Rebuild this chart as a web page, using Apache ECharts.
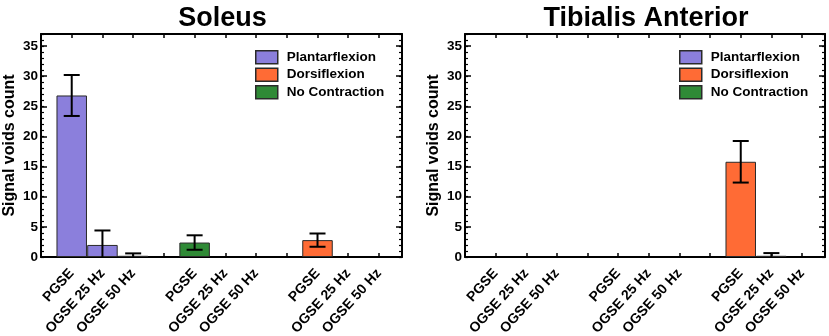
<!DOCTYPE html>
<html><head><meta charset="utf-8">
<script src="https://cdn.jsdelivr.net/npm/echarts@6/dist/echarts.min.js"></script>
<style>html,body{margin:0;padding:0;background:#fff}#c{width:829px;height:336px}</style>
</head><body><div id="c"></div>
<script>
// ---- data ----
const panelTitles = ['Soleus', 'Tibialis Anterior'];
const seqLabels = ['PGSE', 'OGSE 25 Hz', 'OGSE 50 Hz'];
const conditions = ['Plantarflexion', 'No Contraction', 'Dorsiflexion'];
const groupStart = [0, 4, 8]; // x slot of first bar in each condition group
const colors = { 'Plantarflexion': '#8b7fdc', 'Dorsiflexion': '#ff6b35', 'No Contraction': '#2f8a36' };
const legendOrder = ['Plantarflexion', 'Dorsiflexion', 'No Contraction'];

const soleusPlantar = [26.8, 2.0, 0.2];
const soleusPlantarErr = [3.4, 2.4, 0.4];
const soleusNoContr = [2.4, 0, 0];
const soleusNoContrErr = [1.2, 0, 0];
const soleusDorsi = [2.8, 0, 0];
const soleusDorsiErr = [1.1, 0, 0];

const tibPlantar = [0, 0, 0];
const tibPlantarErr = [0, 0, 0];
const tibNoContr = [0, 0, 0];
const tibNoContrErr = [0, 0, 0];
const tibDorsi = [15.8, 0.2, 0];
const tibDorsiErr = [3.45, 0.45, 0];

const yTicks = [0, 5, 10, 15, 20, 25, 30, 35];

const panels = [
  { means: [soleusPlantar, soleusNoContr, soleusDorsi], errs: [soleusPlantarErr, soleusNoContrErr, soleusDorsiErr] },
  { means: [tibPlantar, tibNoContr, tibDorsi], errs: [tibPlantarErr, tibNoContrErr, tibDorsiErr] }
];

// ---- chart ----
const FONT = 'Liberation Sans, Arial, sans-serif';
const gridPos = [
  { left: 41, top: 34, width: 361, height: 223 },
  { left: 465, top: 34, width: 360, height: 223 }
];
const xLabelAt = {};
groupStart.forEach(g => seqLabels.forEach((l, i) => { xLabelAt[g + i] = l; }));

const grids = [], xAxes = [], yAxes = [], series = [], titles = [], legends = [];
const axisLine = { show: true, onZero: false, lineStyle: { color: '#000', width: 2 } };
const noLine = { show: false, onZero: false };

gridPos.forEach((gp, p) => {
  grids.push(Object.assign({ containLabel: false, outerBoundsMode: 'none' }, gp));
  titles.push({
    text: panelTitles[p], left: gp.left + gp.width / 2 - 4, top: 0, textAlign: 'center',
    textStyle: { fontFamily: FONT, fontWeight: 'bold', fontSize: 27, color: '#000' }
  });
  const xb = xAxes.length;
  xAxes.push({
    type: 'value', gridIndex: p, position: 'bottom', min: -1, max: 10.75, interval: 1,
    axisLine, splitLine: { show: false },
    axisTick: { show: true, inside: true, length: 4, lineStyle: { color: '#000', width: 1.5 } },
    axisLabel: {
      show: true, rotate: 48, margin: 14,
      fontFamily: FONT, fontWeight: 'bold', fontSize: 14, color: '#000',
      formatter: v => (Number.isInteger(v) && xLabelAt[v]) ? xLabelAt[v] : ''
    }
  });
  xAxes.push({
    type: 'value', gridIndex: p, position: 'top', min: -1, max: 10.75, interval: 1,
    axisLine, splitLine: { show: false }, axisLabel: { show: false },
    axisTick: { show: true, inside: true, length: 4, lineStyle: { color: '#000', width: 1.5 } }
  });
  const yb = yAxes.length;
  const yCommon = { type: 'value', gridIndex: p, min: 0, max: 37, splitLine: { show: false } };
  yAxes.push(Object.assign({}, yCommon, {
    position: 'left', interval: 5, axisLine,
    axisTick: { show: true, inside: true, length: 6, lineStyle: { color: '#000', width: 1.5 } },
    axisLabel: {
      show: true, margin: 3, fontFamily: FONT, fontWeight: 'bold', fontSize: 13.5, color: '#000',
      formatter: v => yTicks.includes(v) ? String(v) : ''
    },
    name: 'Signal voids count', nameLocation: 'middle', nameGap: 23,
    nameTextStyle: { fontFamily: FONT, fontWeight: 'bold', fontSize: 16, color: '#000' }
  }));
  yAxes.push(Object.assign({}, yCommon, {
    position: 'left', interval: 1, axisLine: noLine, axisLabel: { show: false },
    axisTick: { show: true, inside: true, length: 3, lineStyle: { color: '#000', width: 1.2 } }
  }));
  yAxes.push(Object.assign({}, yCommon, {
    position: 'right', interval: 5, axisLine, axisLabel: { show: false },
    axisTick: { show: true, inside: true, length: 6, lineStyle: { color: '#000', width: 1.5 } }
  }));
  yAxes.push(Object.assign({}, yCommon, {
    position: 'right', interval: 1, axisLine: noLine, axisLabel: { show: false },
    axisTick: { show: true, inside: true, length: 3, lineStyle: { color: '#000', width: 1.2 } }
  }));

  const errData = [];
  conditions.forEach((c, ci) => {
    const data = panels[p].means[ci].map((m, i) => [groupStart[ci] + i, m]);
    series.push({
      type: 'bar', name: c, xAxisIndex: xb, yAxisIndex: yb, stack: 'p' + p, barWidth: 30.5,
      itemStyle: { color: colors[c], borderColor: '#2a2a2a', borderWidth: 1 },
      data: data.filter(d => d[1] > 0)
    });
    panels[p].means[ci].forEach((m, i) => {
      const e = panels[p].errs[ci][i];
      if (m > 0 || e > 0) errData.push([groupStart[ci] + i, m, e]);
    });
  });
  series.push({
    type: 'custom', xAxisIndex: xb, yAxisIndex: yb, clip: true, z: 5,
    renderItem: (params, api) => {
      const x = api.value(0), m = api.value(1), e = api.value(2);
      const t = api.coord([x, m + e]), b = api.coord([x, m - e]);
      const h = 8, st = { stroke: '#000', lineWidth: 2 };
      return { type: 'group', children: [
        { type: 'line', shape: { x1: t[0], y1: t[1], x2: b[0], y2: b[1] }, style: st },
        { type: 'line', shape: { x1: t[0] - h, y1: t[1], x2: t[0] + h, y2: t[1] }, style: st },
        { type: 'line', shape: { x1: b[0] - h, y1: b[1], x2: b[0] + h, y2: b[1] }, style: st }
      ]};
    },
    data: errData
  });
  legends.push({
    orient: 'vertical', left: p === 0 ? 250 : 674, top: 45, itemWidth: 22, itemHeight: 13, itemGap: 3,
    icon: 'rect', selectedMode: false, data: legendOrder,
    itemStyle: { borderColor: '#2a2a2a', borderWidth: 1.5 },
    textStyle: { fontFamily: FONT, fontWeight: 'bold', fontSize: 13.5, color: '#000', padding: [0, 0, 0, 4] }
  });
});

const chart = echarts.init(document.getElementById('c'), null, { renderer: 'canvas' });
chart.setOption({
  backgroundColor: '#fff', animation: false,
  title: titles, legend: legends, grid: grids, xAxis: xAxes, yAxis: yAxes, series
});
</script></body></html>
